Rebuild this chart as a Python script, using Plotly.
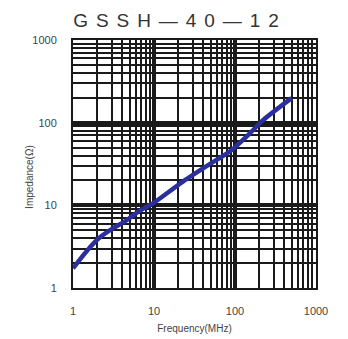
import plotly.graph_objects as go

freq_mhz = [1, 1.5, 2.15, 3.14, 4.6, 6.4, 10, 23, 59, 87, 154, 224, 500]
impedance_ohm = [1.73, 2.85, 4.1, 5.3, 6.6, 8.4, 10.8, 19.5, 35.4, 45, 75, 108, 198]
tick_vals = [1, 10, 100, 1000]
tick_text = ["1", "10", "100", "1000"]

fig = go.Figure()
fig.add_trace(go.Scatter(
    x=freq_mhz, y=impedance_ohm, mode="lines",
    line=dict(color="#2b2f9e", width=4.5, shape="spline", smoothing=0.8),
    showlegend=False, hoverinfo="skip"))

axis_common = dict(
    type="log", showgrid=True, gridcolor="#1a1a1a", gridwidth=3.5,
    zeroline=False, showline=True, linecolor="#1a1a1a", linewidth=2, mirror=True,
    tickvals=tick_vals, ticktext=tick_text, ticks="outside", ticklen=12,
    tickcolor="rgba(0,0,0,0)", automargin=False,
    tickfont=dict(family="Liberation Sans, Arial", size=11, color="#444"),
    minor=dict(dtick="D1", showgrid=True, gridcolor="#1a1a1a", gridwidth=2, ticks=""),
)

fig.update_xaxes(range=[0, 3], **axis_common,
                 title=dict(text="Frequency(MHz)", standoff=9,
                            font=dict(family="Liberation Sans, Arial", size=10, color="#444")))
fig.update_yaxes(range=[0, 3], **axis_common)

fig.add_annotation(text="Impedance(Ω)", xref="paper", yref="paper",
                   x=-0.177, y=0.448, textangle=-90, showarrow=False,
                   xanchor="center", yanchor="middle",
                   font=dict(family="Liberation Sans, Arial", size=10, color="#444"))

sp = "\u2004\u200a"
title_text = sp.join(["G", "S", "S", "H", "—", "4", "0", "—", "1", "2"])

fig.update_layout(
    width=340, height=331,
    margin=dict(l=65, r=32, t=32, b=51),
    paper_bgcolor="white", plot_bgcolor="white",
    title=dict(text=title_text, x=168/340, xanchor="center",
               y=1 - 12/331, yanchor="middle",
               font=dict(family="Liberation Sans, Arial", size=19, color="#333")),
)

fig.write_html("out.html")
